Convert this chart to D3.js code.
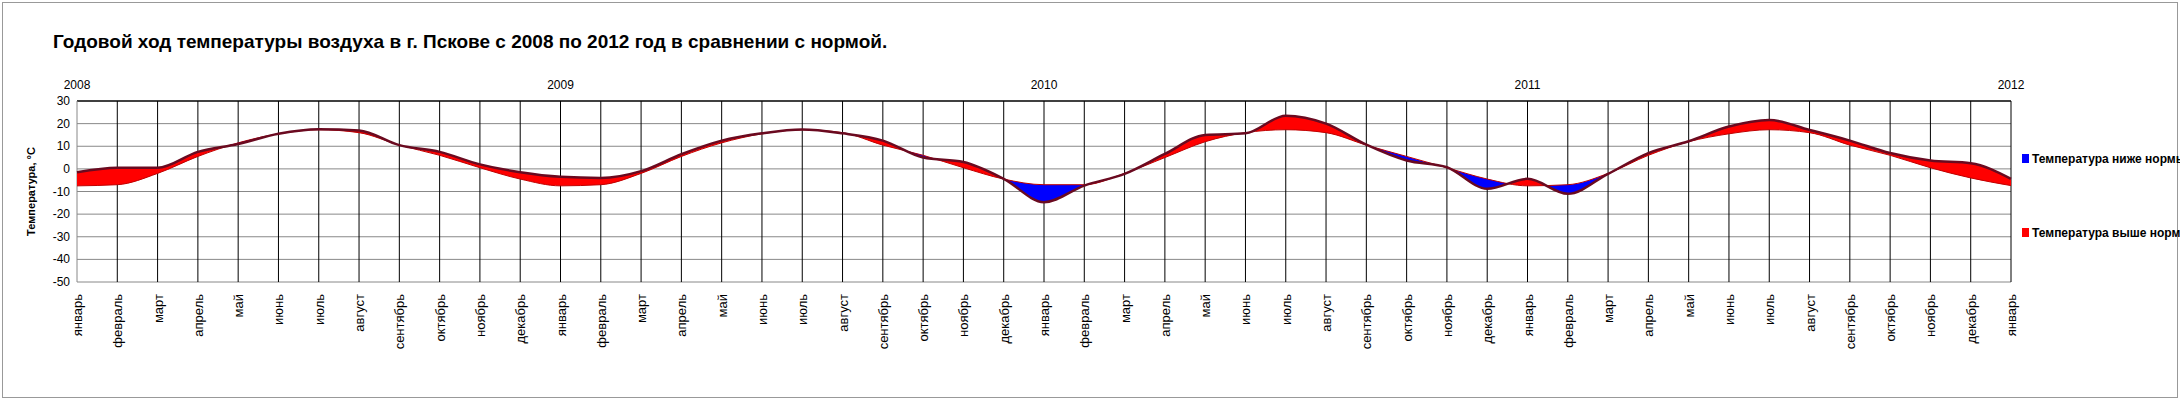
<!DOCTYPE html>
<html><head><meta charset="utf-8">
<script src="https://cdn.jsdelivr.net/npm/d3@7"></script>
<style>body{margin:0;background:#fff}</style></head>
<body><svg id="c" width="2180" height="400"></svg>
<script>
const monthNames=["январь","февраль","март","апрель","май","июнь","июль","август","сентябрь","октябрь","ноябрь","декабрь"];
const years=["2008","2009","2010","2011","2012"];
const actual=[-1.5,0.5,0.5,7.5,11,15.5,17.5,17,10.5,7.5,2,-1.5,
 -3.5,-4,-1,6.5,12.5,15.7,17.4,15.7,12.5,5,3,-4.4,
 -14.7,-7.4,-2.2,6.6,15,15.7,23.5,20,10.7,3.7,0.7,-8.8,
 -4.4,-11,-2.2,7,12.2,18.7,21.6,17.2,12.5,7,3.7,2.5,-4.4];
const norm=[-7.5,-7,-2,5.5,11.5,15.5,17.3,16,10.5,6,0.5,-4.5,
 -7.5,-7,-2,5.5,11.5,15.5,17.3,16,10.5,6,0.5,-4.5,
 -7,-7,-2,5,12,16,17.3,16,10.5,5.5,0.5,-4.5,
 -7.5,-7,-2,6,12,15.5,17.3,16,10.5,6,0.5,-4,-7.4];
const yTicks=[30,20,10,0,-10,-20,-30,-40,-50];
const labels=actual.map((d,i)=>monthNames[i%12]);
const legendItems=[{t:"Температура ниже нормы",c:"#0000ff"},{t:"Температура выше нормы",c:"#ff0000"}];

const svg=d3.select("#c");
const L=77,R=2011,T=101,B=282;
const x=d3.scaleLinear().domain([0,actual.length-1]).range([L,R]);
const y=d3.scaleLinear().domain([-50,30]).range([B,T]);
svg.append("rect").attr("x",2.5).attr("y",2.5).attr("width",2175).attr("height",395).attr("fill","none").attr("stroke","#999");
svg.append("text").attr("x",53).attr("y",48).attr("font-family","Liberation Sans").attr("font-weight","bold").attr("font-size",19)
 .text("Годовой ход температуры воздуха в г. Пскове с 2008 по 2012 год в сравнении с нормой.");
svg.selectAll(".hg").data(yTicks).enter().append("line").attr("x1",L).attr("x2",R).attr("y1",d=>y(d)).attr("y2",d=>y(d))
 .attr("stroke",d=>d===30?"#000":"#888").attr("stroke-width",d=>d===30?1.5:1);
svg.selectAll(".vg").data(d3.range(actual.length)).enter().append("line").attr("x1",d=>x(d)).attr("x2",d=>x(d)).attr("y1",T).attr("y2",B)
 .attr("stroke",(d)=>d===0?"#888":"#000").attr("stroke-width",1);
svg.selectAll(".yt").data(yTicks).enter().append("text").attr("x",L-7).attr("y",d=>y(d)+4).attr("text-anchor","end")
 .attr("font-family","Liberation Sans").attr("font-size",12).text(d=>d);
svg.append("text").attr("transform",`translate(35,${(T+B)/2}) rotate(-90)`).attr("text-anchor","middle")
 .attr("font-family","Liberation Sans").attr("font-weight","bold").attr("font-size",11).text("Температура, °С");
svg.selectAll(".ml").data(labels).enter().append("text")
 .attr("transform",(d,i)=>`translate(${x(i)+5},294) rotate(-90)`).attr("text-anchor","end")
 .attr("font-family","Liberation Sans").attr("font-size",13).text(d=>d);
svg.selectAll(".yr").data(years).enter().append("text").attr("x",(d,i)=>x(i*12)).attr("y",89).attr("text-anchor","middle")
 .attr("font-family","Liberation Sans").attr("font-size",12).text(d=>d);
const idx=d3.range(actual.length);
const cv=d3.curveMonotoneX;
const defs=svg.append("defs");
defs.append("clipPath").attr("id","below").append("path").attr("d",d3.area().curve(cv).x(i=>x(i)).y0(B).y1(i=>y(actual[i]))(idx));
defs.append("clipPath").attr("id","above").append("path").attr("d",d3.area().curve(cv).x(i=>x(i)).y0(T).y1(i=>y(actual[i]))(idx));
svg.append("path").attr("clip-path","url(#below)").attr("fill","#ff0000")
 .attr("d",d3.area().curve(cv).x(i=>x(i)).y0(T).y1(i=>y(norm[i]))(idx));
svg.append("path").attr("clip-path","url(#above)").attr("fill","#0000ff")
 .attr("d",d3.area().curve(cv).x(i=>x(i)).y0(B).y1(i=>y(norm[i]))(idx));
svg.append("path").attr("fill","none").attr("stroke","#c00000").attr("stroke-width",1)
 .attr("d",d3.line().curve(cv).x(i=>x(i)).y(i=>y(norm[i]))(idx));
svg.append("path").attr("fill","none").attr("stroke","#6a0a20").attr("stroke-width",2.5)
 .attr("d",d3.line().curve(cv).x(i=>x(i)).y(i=>y(actual[i]))(idx));
const lg=svg.selectAll(".lg").data(legendItems).enter().append("g").attr("transform",(d,i)=>`translate(2022,${i?235:161})`);
lg.append("rect").attr("x",0).attr("y",-7).attr("width",7).attr("height",9).attr("fill",d=>d.c);
lg.append("text").attr("x",10).attr("y",2).attr("font-family","Liberation Sans Narrow, Liberation Sans").attr("font-size",12).attr("font-weight","bold").text(d=>d.t);
</script></body></html>
